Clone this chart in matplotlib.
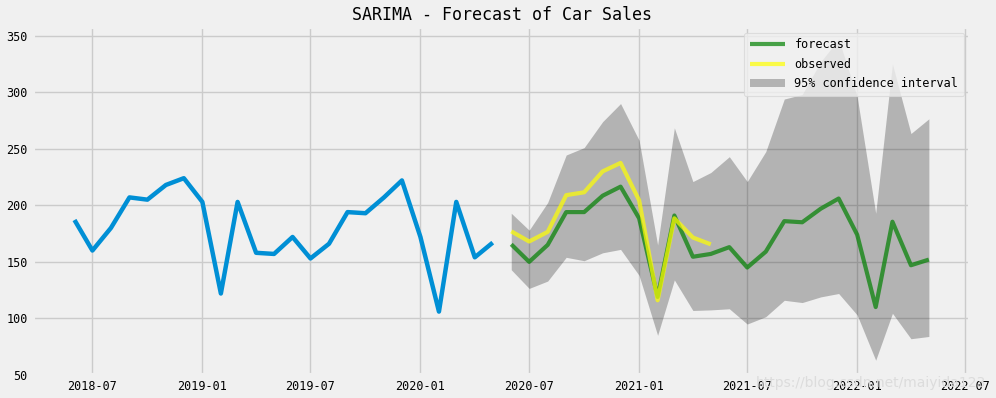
import numpy as np
import pandas as pd
import matplotlib
matplotlib.use('Agg')
import matplotlib.pyplot as plt
import matplotlib.dates as mdates

plt.style.use('fivethirtyeight')
plt.rcParams['font.family'] = ['DejaVu Sans Mono']

# history of monthly car sales
hist_dates = pd.date_range('2018-06-01', '2020-05-01', freq='MS')
hist_sales = [187, 160, 180, 207, 205, 218, 224, 203, 122, 203, 158, 157,
              172, 153, 166, 194, 193, 207, 222, 172, 106, 203, 154, 167]

# SARIMA forecast and its 95% interval
fc_dates = pd.date_range('2020-06-01', '2022-05-01', freq='MS')
fc_mean = [165.5, 150, 165, 194, 194, 208.5, 216.5, 188.5, 119, 191, 154.5, 157,
           163, 145, 159, 186, 185, 197, 206, 174, 110, 185.5, 147, 152]
ci_lower = [143, 126.5, 133, 154, 151, 158, 161, 138, 85, 134, 107, 107.5,
            108.5, 95, 101.5, 116, 114, 119, 122, 103, 63, 104.5, 82, 84]
ci_upper = [193, 178, 202.5, 244.5, 251, 274, 290, 257.5, 165, 268.5, 221, 229,
            243, 221, 247.5, 294, 298, 327, 347, 296, 193, 325, 263.5, 276.5]

# what actually happened afterwards
obs_dates = pd.date_range('2020-06-01', '2021-05-01', freq='MS')
obs_sales = [177, 168, 176.5, 209, 211.5, 230, 237.5, 204.5, 116, 188.5, 171.5, 165.5]

fig = plt.figure(figsize=(9.96, 3.98), dpi=100)
ax = fig.add_axes([0.0334, 0.058, 0.9406, 0.875])

ax.plot(hist_dates, hist_sales, color='#008fd5', lw=3.2)
ax.plot(fc_dates, fc_mean, color='green', alpha=0.7, lw=3, label='forecast')
ax.plot(obs_dates, obs_sales, color='yellow', alpha=0.7, lw=3, label='observed')
ax.fill_between(fc_dates, ci_lower, ci_upper, color='k', alpha=0.25, lw=0,
                label='95% confidence interval')

ax.set_xlim(pd.Timestamp('2018-03-24'), pd.Timestamp('2022-07-09'))
ax.set_ylim(50, 358)
ax.set_yticks([50, 100, 150, 200, 250, 300, 350])
ax.xaxis.set_major_locator(mdates.MonthLocator(bymonth=[1, 7]))
ax.xaxis.set_major_formatter(mdates.DateFormatter('%Y-%m'))
ax.tick_params(labelsize=8.5, pad=4)
ax.grid(True, color='#cbcbcb', lw=1)

ax.set_title('SARIMA - Forecast of Car Sales', fontsize=12, pad=5)
leg = ax.legend(loc='upper right', fontsize=8.5, borderaxespad=0.5, handlelength=3.0,
                borderpad=0.5, labelspacing=0.55, frameon=True, fancybox=True)
leg.get_frame().set_edgecolor('#d8d8d8')
leg.get_frame().set_linewidth(0.8)
leg.get_frame().set_alpha(0.8)

fig.text(0.99, 0.02, 'https://blog.csdn.net/maiyida123', ha='right', va='bottom',
         fontsize=10, color='#dcdcdc', family='DejaVu Sans')

plt.savefig('out.png', dpi=100, facecolor=fig.get_facecolor())
